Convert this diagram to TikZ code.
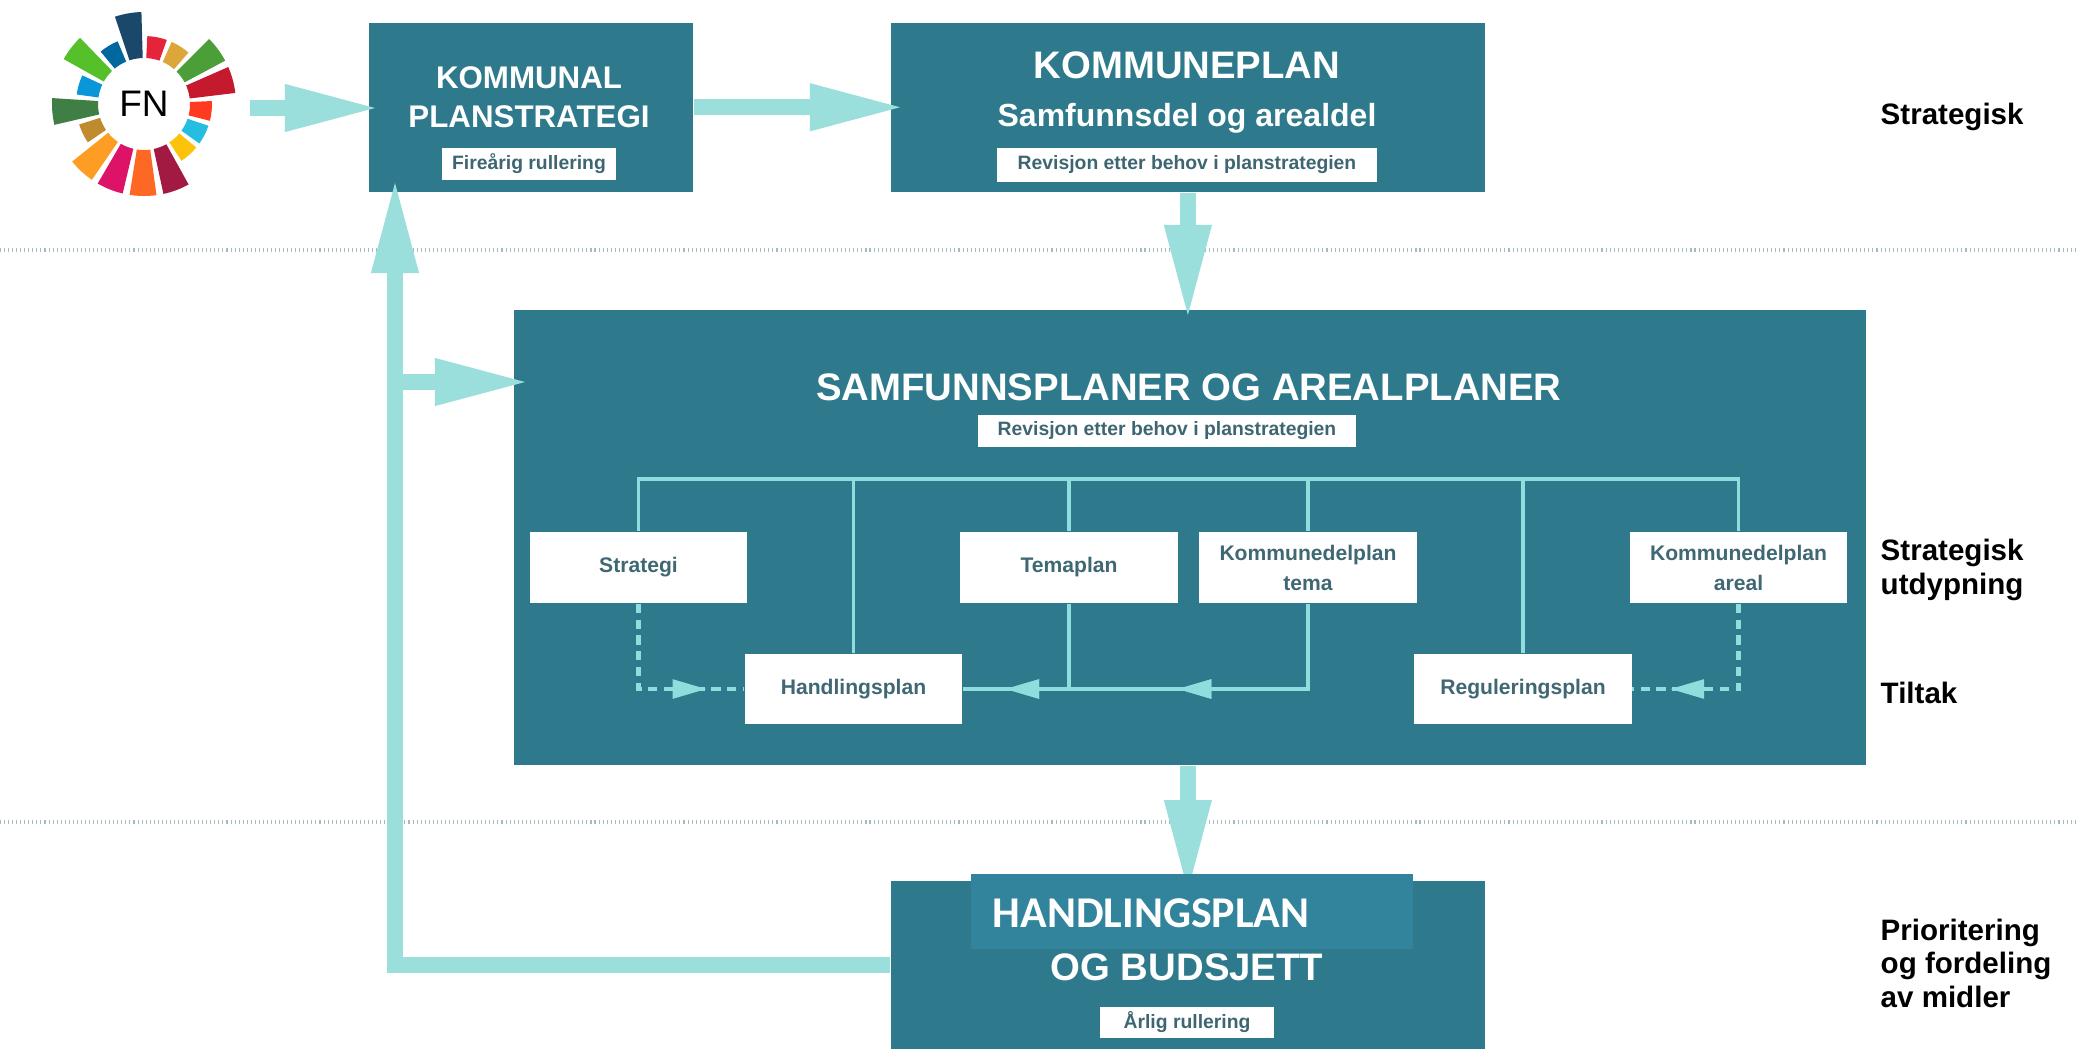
\documentclass[tikz,border=0pt]{standalone}
\usepackage{fontspec}
\setmainfont{Liberation Sans}
\newfontfamily\calibrifont{Carlito}
\usetikzlibrary{arrows.meta,decorations.markings}
\definecolor{boxc}{HTML}{2E7A8C}
\definecolor{ovc}{HTML}{31849B}
\definecolor{arrc}{HTML}{9ADFDB}
\definecolor{busc}{HTML}{8FDDDC}
\definecolor{lblc}{HTML}{3E6672}
\definecolor{subc}{HTML}{3F6873}
\definecolor{dotc}{HTML}{A3BAC3}
\definecolor{sdgA}{HTML}{E5243B}
\definecolor{sdgB}{HTML}{DDA63A}
\definecolor{sdgC}{HTML}{4C9F38}
\definecolor{sdgD}{HTML}{C5192D}
\definecolor{sdgE}{HTML}{FF3A21}
\definecolor{sdgF}{HTML}{26BDE2}
\definecolor{sdgG}{HTML}{FCC30B}
\definecolor{sdgH}{HTML}{A21942}
\definecolor{sdgI}{HTML}{FD6925}
\definecolor{sdgJ}{HTML}{DD1367}
\definecolor{sdgK}{HTML}{FD9D24}
\definecolor{sdgL}{HTML}{BF8B2E}
\definecolor{sdgM}{HTML}{3F7E44}
\definecolor{sdgN}{HTML}{0A97D9}
\definecolor{sdgO}{HTML}{56C02B}
\definecolor{sdgP}{HTML}{00689D}
\definecolor{sdgQ}{HTML}{19486A}
\newcommand\ftitle{\fontsize{10.9pt}{13pt}\selectfont\bfseries}
\newcommand\fkps{\fontsize{8.9pt}{11pt}\selectfont\bfseries}
\newcommand\fsubt{\fontsize{9.1pt}{11pt}\selectfont\bfseries}
\newcommand\fsmalllbl{\fontsize{5.5pt}{6.6pt}\selectfont\bfseries}
\newcommand\fsubbox{\fontsize{6pt}{8.5pt}\selectfont\bfseries}
\newcommand\fside{\fontsize{8.4pt}{10pt}\selectfont\bfseries}
\begin{document}
\begin{tikzpicture}[x=0.01cm,y=-0.01cm,
  darkbox/.style={fill=boxc,draw=none,inner sep=0pt,anchor=north west},
  wlabel/.style={fill=white,inner sep=0pt,text=lblc,font=\fsmalllbl},
  subbox/.style={fill=white,inner sep=0pt,text=subc,font=\fsubbox,minimum width=2.17cm,minimum height=0.71cm,align=center},
  titletxt/.style={anchor=base,inner sep=0pt,text=white},
  bigarrow/.style={draw=arrc,line width=4.6pt,line join=miter,-{Triangle[length=25.6pt,width=13.7pt,line width=0pt]}},
  busline/.style={draw=busc,line width=1.1pt},
  dashline/.style={draw=busc,line width=1.25pt,dash pattern=on 2.6pt off 1.9pt},
  dotline/.style={draw=dotc,line width=1.2pt,dash pattern=on 0.3pt off 0.85pt},
  sidelbl/.style={anchor=base west,inner sep=0pt,font=\fside},
  smalltip/.style={decoration={markings,mark=at position #1 with {\arrow{Triangle[length=9.5pt,width=5.6pt,line width=0pt]}}},postaction={decorate}}
]
\useasboundingbox (0,0) rectangle (2077,1048);

% dotted separators
\draw[dotline] (0,250) -- (2077,250);
\draw[dotline] (0,822) -- (2077,822);

% FN wheel
\begin{scope}[shift={(144,104)},yscale=-1]
\foreach \a/\c/\r in {100/sdgQ/92, 78.8/sdgA/68, 57.6/sdgB/68, 36.5/sdgC/92, 15.3/sdgD/92,
  -5.9/sdgE/68, -27.1/sdgF/68, -48.2/sdgG/68, -69.4/sdgH/92, -90.6/sdgI/92,
  -111.8/sdgJ/92, -132.9/sdgK/92, -154.1/sdgL/68, -175.3/sdgM/92, -196.5/sdgN/68,
  -217.6/sdgO/92, -238.8/sdgP/68}{
  \fill[\c] (\a-8.4:46) arc[start angle=\a-8.4,end angle=\a+8.4,radius=46]
    -- (\a+8.4:\r) arc[start angle=\a+8.4,end angle=\a-8.4,radius=\r] -- cycle;
}
\end{scope}
\node[circle,fill=white,inner sep=0pt,minimum size=0.9cm,font=\fontsize{10.5pt}{12pt}\selectfont] (fn) at (144,104) {FN};

% main boxes
\node[darkbox,minimum width=3.24cm,minimum height=1.69cm] (kps) at (368,22) {};
\node[darkbox,minimum width=5.94cm,minimum height=1.69cm] (kp) at (890,22) {};
\node[darkbox,minimum width=13.51cm,minimum height=4.55cm] (sap) at (513,309) {};
\node[darkbox,minimum width=5.94cm,minimum height=1.68cm] (hb) at (890,880) {};

% texts of KOMMUNAL PLANSTRATEGI
\node[titletxt,font=\fkps] (kpst1) at (529,88) {KOMMUNAL};
\node[titletxt,font=\fkps] (kpst2) at (529,127) {PLANSTRATEGI};
\node[wlabel,minimum width=1.74cm,minimum height=0.32cm] (kpsl) at (529,164) {Fireårig rullering};

% texts of KOMMUNEPLAN
\node[titletxt,font=\ftitle] (kpt1) at (1187,78) {KOMMUNEPLAN};
\node[titletxt,font=\fsubt] (kpt2) at (1187,126) {Samfunnsdel og arealdel};
\node[wlabel,minimum width=3.79cm,minimum height=0.34cm] (kpl) at (1187,165) {Revisjon etter behov i planstrategien};

% texts of SAMFUNNSPLANER
\node[titletxt,font=\ftitle] (sapt) at (1189,400) {SAMFUNNSPLANER OG AREALPLANER};
\node[wlabel,minimum width=3.78cm,minimum height=0.32cm] (sapl) at (1167,431) {Revisjon etter behov i planstrategien};

% sub boxes
\node[subbox] (strat) at (638.5,567.5) {Strategi};
\node[subbox] (tema) at (1069,567.5) {Temaplan};
\node[subbox] (kdt) at (1308,567.5) {Kommunedelplan\\tema};
\node[subbox] (kda) at (1738.5,567.5) {Kommunedelplan\\areal};
\node[subbox,minimum height=0.70cm] (hp) at (853.5,689) {Handlingsplan};
\node[subbox,minimum height=0.70cm] (reg) at (1523,689) {Reguleringsplan};

% bus lines
\coordinate (busL) at (637,479);
\draw[busline] (strat.north) -- (strat.north |- busL) -- (kda.north |- busL) -- (kda.north);
\foreach \n in {hp,tema,kdt,reg}{\draw[busline] (\n.north) -- (\n.north |- busL);}

% inner connectors
\draw[dashline,smalltip=0.80] (strat.south) |- (hp.west);
\draw[busline] (tema.south) -- (tema.south |- hp.east);
\draw[busline,smalltip=0.50,smalltip=0.90] (kdt.south) |- (hp.east);
\draw[dashline,smalltip=0.80] (kda.south) |- (reg.east);

% big arrows
\coordinate (fnarr) at (250,108);
\draw[bigarrow] (fnarr) -- ([xshift=0.07cm]kps.west |- fnarr);
\draw[bigarrow] (kps.east) -- ([xshift=0.1cm]kp.west);
\draw[bigarrow] (kp.south) -- ([yshift=-0.06cm]kp.south |- sap.north);
\draw[bigarrow] (hb.north |- sap.south) -- ([yshift=-0.1cm]hb.north);
\coordinate (fbtop) at (395,183);
\draw[bigarrow] (hb.west) -| (fbtop);
\coordinate (brs) at (395,382);
\draw[bigarrow] (brs) -- ([xshift=0.12cm]sap.west |- brs);

% HANDLINGSPLAN OG BUDSJETT texts
\node[fill=ovc,anchor=north west,inner sep=0pt,minimum width=4.42cm,minimum height=0.75cm] (ov) at (970,873) {};
\node[anchor=base west,inner sep=0pt,text=white,font=\calibrifont\fontsize{12.5pt}{14pt}\selectfont\bfseries] (ovt) at (992,927) {HANDLINGSPLAN};
\node[titletxt,font=\ftitle] (hbt) at (1187,980) {OG BUDSJETT};
\node[wlabel,minimum width=1.74cm,minimum height=0.31cm] (hbl) at (1187,1022) {Årlig rullering};

% side labels
\node[sidelbl] (s1) at (1880,124) {Strategisk};
\node[sidelbl] (s2a) at (1880,560) {Strategisk};
\node[sidelbl] (s2b) at (1880,594) {utdypning};
\node[sidelbl] (s3) at (1880,703) {Tiltak};
\node[sidelbl] (s4a) at (1880,940) {Prioritering};
\node[sidelbl] (s4b) at (1880,973.5) {og fordeling};
\node[sidelbl] (s4c) at (1880,1007) {av midler};
\end{tikzpicture}
\end{document}
